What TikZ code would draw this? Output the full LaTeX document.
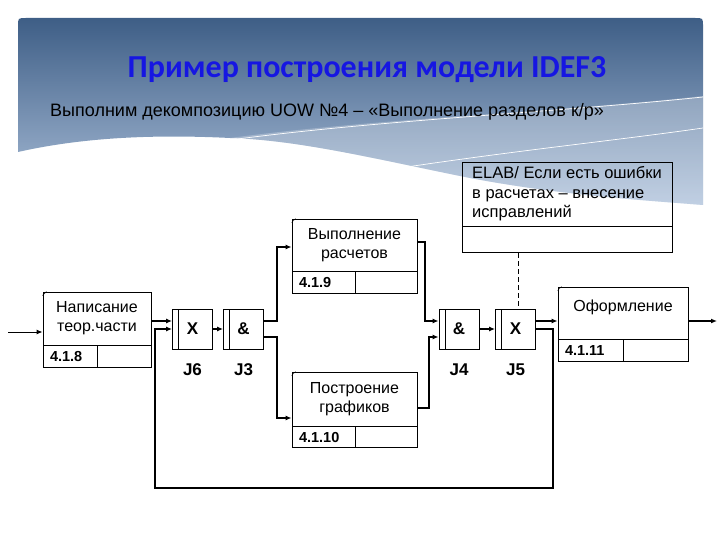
\documentclass[tikz,border=0pt]{standalone}
\usepackage{fontspec}
\setmainfont{Liberation Sans}
\newfontfamily\titlefont{Carlito}
\usepackage{xcolor}
\usetikzlibrary{positioning,arrows.meta}

\definecolor{hdtop}{RGB}{62,94,134}
\definecolor{hdbot}{RGB}{172,192,218}
\definecolor{ttlblue}{RGB}{22,22,226}

\tikzset{
  uow/.style={draw, line width=0.9pt, minimum height=53pt, align=center, inner sep=0pt, font=\fontsize{16}{19}\selectfont},
  cell/.style={draw, line width=0.9pt, minimum height=22pt, inner sep=0pt, font=\fontsize{14.5}{16}\selectfont\bfseries},
  numcell/.style={cell, inner xsep=7pt, text width=#1, align=left},
  junc/.style={draw, line width=0.9pt, minimum width=40pt, minimum height=40pt, inner sep=0pt,
    font=\fontsize{17}{19}\selectfont\bfseries,
    path picture={\draw[line width=0.9pt] ([xshift=6pt]path picture bounding box.north west)
      -- ([xshift=6pt]path picture bounding box.south west);}},
  jlab/.style={inner sep=0pt, font=\fontsize{17}{19}\selectfont\bfseries},
  flow/.style={line width=2.2pt},
  thinflow/.style={line width=1pt},
  tip/.style={-{Latex[length=6pt,width=5pt]}},
}

\begin{document}
\begin{tikzpicture}[x=1pt, y=-1pt]
  \useasboundingbox (0,0) rectangle (720,540);

  % header with wave
  \shade[top color=hdtop, bottom color=hdbot]
    (18,152) -- (18,26) .. controls (18,18) .. (26,18) -- (695,18) .. controls (703,18) .. (703,26) -- (703,205)
    .. controls (640,200) and (560,195) .. (470,178)
    .. controls (380,160) and (300,140) .. (230,138)
    .. controls (150,134) and (80,138) .. (18,152);
  \fill[white, opacity=0.25]
    (230,138) .. controls (380,118) and (560,112) .. (703,96) -- (703,205)
    .. controls (640,200) and (560,195) .. (470,178)
    .. controls (380,160) and (300,140) .. (230,138);
  \draw[white, line width=0.7pt] (230,140) .. controls (380,120) and (560,112) .. (703,97);
  \draw[white, line width=0.7pt] (400,168) .. controls (520,150) and (620,140) .. (703,128);

  \node (title) at (367,70) {\titlefont\bfseries\fontsize{32}{36}\selectfont\color{ttlblue}Пример построения модели IDEF3};
  \node[anchor=west, inner sep=0pt] (sub) at (50,112) {\fontsize{18}{20}\selectfont Выполним декомпозицию UOW №4 – «Выполнение разделов к/р»};

  % UOW boxes
  \node[uow, minimum width=108pt] (b418) at (97,318.5) {Написание\\теор.части};
  \node[numcell=40pt, below right=0pt and 0pt of b418.south west] (i418) {4.1.8};
  \node[cell, minimum width=54pt, right=0pt of i418] (e418) {};

  \node[uow, minimum width=125pt, minimum height=52pt] (b419) at (354.5,245) {Выполнение\\расчетов};
  \node[numcell=49pt, below right=0pt and 0pt of b419.south west] (i419) {4.1.9};
  \node[cell, minimum width=62pt, right=0pt of i419] (e419) {};

  \node[uow, minimum width=125pt, minimum height=54pt] (b4110) at (354.5,399) {Построение\\графиков};
  \node[numcell=49pt, minimum height=21pt, below right=0pt and 0pt of b4110.south west] (i4110) {4.1.10};
  \node[cell, minimum width=62pt, minimum height=21pt, right=0pt of i4110] (e4110) {};

  \node[uow, minimum width=130pt, minimum height=52pt, text depth=14pt] (b4111) at (623,313) {Оформление};
  \node[numcell=51pt, below right=0pt and 0pt of b4111.south west] (i4111) {4.1.11};
  \node[cell, minimum width=65pt, right=0pt of i4111] (e4111) {};

  % corner marks
  \foreach \b in {b418,b419,b4110,b4111}
    \draw[line width=0.5pt] ([yshift=-4pt]\b.north west) -- ([xshift=4pt]\b.north west);

  % referent
  \node[uow, minimum width=210pt, minimum height=64pt, align=left,
    font=\fontsize{16.5}{19.5}\selectfont] (elab) at (567,194)
    {ELAB/ Если есть ошибки\\в расчетах – внесение\\исправлений};
  \node[cell, minimum width=210pt, minimum height=26pt, below=0pt of elab] (elabc) {};

  % junctions
  \node[junc] (j6) at (192.5,329) {X};
  \node[junc] (j3) at (243.5,329) {\&};
  \node[junc] (j4) at (459,329) {\&};
  \node[junc] (j5) at (515.5,329) {X};
  \node[jlab, below=14pt of j6] (lj6) {J6};
  \node[jlab, below=14pt of j3] (lj3) {J3};
  \node[jlab, below=14pt of j4] (lj4) {J4};
  \node[jlab, below=14pt of j5] (lj5) {J5};

  % helper points
  \coordinate (in) at (8,332);
  \coordinate (out) at (717,321);
  \coordinate (sp1) at (277,0);
  \coordinate (sp2) at (425,0);
  \coordinate (sp3) at (429,0);
  \coordinate (lpr) at (553,488);
  \coordinate (lpl) at (155,488);
  \coordinate (j6a) at ([yshift=8pt]j6.west);
  \coordinate (j3a) at ([yshift=8pt]j3.east);
  \coordinate (j3b) at ([yshift=-8pt]j3.east);
  \coordinate (j4a) at ([yshift=8pt]j4.west);
  \coordinate (j4b) at ([yshift=-8pt]j4.west);
  \coordinate (j5a) at ([yshift=8pt]j5.east);
  \coordinate (j5t) at ([xshift=3pt]j5.north);
  \coordinate (b419i) at ([yshift=-2pt]b419.west);
  \coordinate (b4110i) at ([yshift=-19pt]b4110.west);
  \coordinate (b419o) at ([yshift=3pt]b419.east);
  \coordinate (b4110o) at ([yshift=-9pt]b4110.east);

  % links
  \draw[thinflow, tip] (in) -- (in -| b418.west);
  \draw[flow, tip] (j6a -| b418.east) -- (j6a);
  \draw[flow, tip] (j5.east) -| (lpr) -- (lpl) |- (j6.west);
  \draw[line width=1.2pt, tip] (j6.east) -- (j3.west);
  \draw[flow, tip] (j3a) -- (j3a -| sp1) |- (b419i);
  \draw[flow, tip] (j3b) -- (j3b -| sp1) |- (b4110i);
  \draw[flow, tip] (b419o) -| (sp2 |- j4a) -- (j4a);
  \draw[flow, tip] (b4110o) -| (sp3 |- j4b) -- (j4b);
  \draw[flow, tip] (j4.east) -- (j5.west);
  \draw[flow, tip] (j5a) -- (j5a -| b4111.west);
  \draw[flow, tip] (out -| b4111.east) -- (out);
  \draw[line width=0.9pt, dash pattern=on 5pt off 3pt] (j5t |- elabc.south) -- (j5t);
\end{tikzpicture}
\end{document}
